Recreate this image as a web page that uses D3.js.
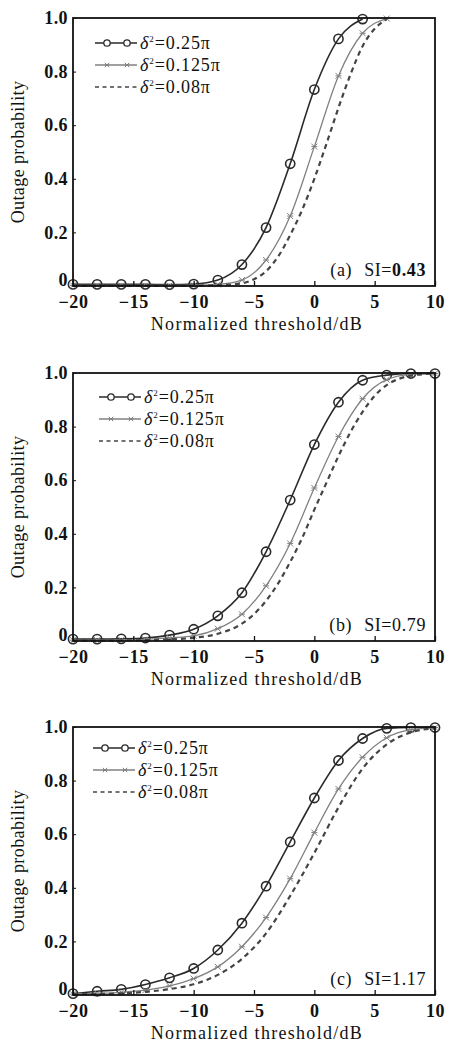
<!DOCTYPE html>
<html>
<head>
<meta charset="utf-8">
<script src="https://cdn.jsdelivr.net/npm/d3@7"></script>
<style>
  body { margin: 0; background: #fff; }
  svg { display: block; font-family: "Liberation Serif", "Times New Roman", serif; }
</style>
</head>
<body>
<svg id="chart" width="450" height="1043"></svg>
<script>
var xTicks = [-20, -15, -10, -5, 0, 5, 10];
var yTicks = [0, 0.2, 0.4, 0.6, 0.8, 1.0];
var seriesNames = ["0.25π", "0.125π", "0.08π"];
var panelTags = ["(a)", "(b)", "(c)"];
var siValues = ["0.43", "0.79", "1.17"];

// panel (a)
var xA25 = [-20, -18, -16, -14, -12, -10, -8, -6, -4, -2, 0, 2, 4];
var yA25 = [0.006, 0.006, 0.006, 0.006, 0.005, 0.007, 0.022, 0.08, 0.218, 0.456, 0.733, 0.922, 0.996];
var xA125 = [-20, -18, -16, -14, -12, -10, -8, -6, -4, -2, 0, 2, 4, 6];
var yA125 = [0.002, 0.002, 0.002, 0.002, 0.002, 0.003, 0.006, 0.022, 0.097, 0.261, 0.52, 0.784, 0.943, 0.998];
var xA08 = [-20, -10, -8, -6, -5, -4, -3, -2, -1, 0, 1, 2, 3, 4, 5, 6];
var yA08 = [0.001, 0.001, 0.003, 0.01, 0.025, 0.055, 0.11, 0.19, 0.285, 0.40, 0.53, 0.665, 0.79, 0.895, 0.96, 0.995];

// panel (b)
var xB25 = [-20, -18, -16, -14, -12, -10, -8, -6, -4, -2, 0, 2, 4, 6, 8, 10];
var yB25 = [0.007, 0.007, 0.008, 0.011, 0.022, 0.044, 0.094, 0.18, 0.333, 0.526, 0.733, 0.891, 0.973, 0.992, 0.998, 0.998];
var xB125 = [-20, -18, -16, -14, -12, -10, -8, -6, -4, -2, 0, 2, 4, 6, 8, 10];
var yB125 = [0.003, 0.003, 0.004, 0.006, 0.012, 0.019, 0.046, 0.10, 0.206, 0.364, 0.571, 0.763, 0.904, 0.975, 0.995, 0.998];
var xB08 = [-20, -14, -12, -10, -8, -6, -5, -4, -3, -2, -1, 0, 1, 2, 3, 4, 5, 6, 7, 8, 10];
var yB08 = [0.001, 0.003, 0.006, 0.012, 0.027, 0.065, 0.10, 0.15, 0.215, 0.295, 0.385, 0.49, 0.59, 0.69, 0.78, 0.855, 0.915, 0.955, 0.978, 0.99, 0.998];

// panel (c)
var xC25 = [-20, -18, -16, -14, -12, -10, -8, -6, -4, -2, 0, 2, 4, 6, 8, 10];
var yC25 = [0.005, 0.014, 0.021, 0.039, 0.064, 0.099, 0.168, 0.268, 0.406, 0.571, 0.735, 0.875, 0.957, 0.995, 0.998, 0.998];
var xC125 = [-20, -18, -16, -14, -12, -10, -8, -6, -4, -2, 0, 2, 4, 6, 8, 10];
var yC125 = [0.003, 0.006, 0.01, 0.018, 0.034, 0.061, 0.105, 0.18, 0.289, 0.434, 0.606, 0.769, 0.887, 0.96, 0.99, 0.998];
var xC08 = [-20, -18, -16, -14, -12, -10, -8, -6, -4, -2, 0, 2, 4, 6, 8, 10];
var yC08 = [0.002, 0.004, 0.006, 0.012, 0.022, 0.04, 0.075, 0.135, 0.23, 0.37, 0.53, 0.70, 0.845, 0.935, 0.98, 0.995];

var panels = [
  { tag: panelTags[0], si: siValues[0], siBold: true, top: 18, legX: 95, legY: 25,
    series: [[xA25, yA25], [xA125, yA125], [xA08, yA08]] },
  { tag: panelTags[1], si: siValues[1], siBold: false, top: 373, legX: 99, legY: 24,
    series: [[xB25, yB25], [xB125, yB125], [xB08, yB08]] },
  { tag: panelTags[2], si: siValues[2], siBold: false, top: 727, legX: 93, legY: 21,
    series: [[xC25, yC25], [xC125, yC125], [xC08, yC08]] }
];

var svg = d3.select("#chart");
var left = 73, right = 435, plotH = 268;

var x = d3.scaleLinear().domain([-20, 10]).range([left, right]);

var styles = [
  { stroke: "#2a2a2a", width: 1.6, dash: null, marker: "circle" },
  { stroke: "#808080", width: 1.3, dash: null, marker: "cross" },
  { stroke: "#444", width: 2.2, dash: "5,4", marker: null }
];

function crossPath(cx, cy, s) {
  return "M" + (cx - s) + "," + (cy - s) + "L" + (cx + s) + "," + (cy + s) +
         "M" + (cx - s) + "," + (cy + s) + "L" + (cx + s) + "," + (cy - s) +
         "M" + (cx - s) + "," + cy + "L" + (cx + s) + "," + cy;
}

panels.forEach(function(p) {
  var bottom = p.top + plotH;
  var y = d3.scaleLinear().domain([0, 1]).range([bottom, p.top]);
  var g = svg.append("g");

  // curves
  p.series.forEach(function(s, i) {
    var pts = s[0].map(function(v, k) { return [v, s[1][k]]; });
    var st = styles[i];
    var line = d3.line()
      .x(function(d) { return x(d[0]); })
      .y(function(d) { return y(d[1]); })
      .curve(d3.curveMonotoneX);

    g.append("path")
      .datum(pts)
      .attr("d", line)
      .attr("fill", "none")
      .attr("stroke", st.stroke)
      .attr("stroke-width", st.width)
      .attr("stroke-dasharray", st.dash);

    if (st.marker == "circle") {
      g.selectAll(null).data(pts).enter().append("circle")
        .attr("cx", function(d) { return x(d[0]); })
        .attr("cy", function(d) { return y(d[1]); })
        .attr("r", 4.6)
        .attr("fill", "none")
        .attr("stroke", st.stroke)
        .attr("stroke-width", 1.6);
    } else if (st.marker == "cross") {
      g.selectAll(null).data(pts).enter().append("path")
        .attr("d", function(d) { return crossPath(x(d[0]), y(d[1]), 3); })
        .attr("fill", "none")
        .attr("stroke", st.stroke)
        .attr("stroke-width", 1);
    }
  });

  // frame
  g.append("rect")
    .attr("x", left).attr("y", p.top)
    .attr("width", right - left).attr("height", plotH)
    .attr("fill", "none")
    .attr("stroke", "#111")
    .attr("stroke-width", 1.8);

  // bottom axis, ticks pointing in
  var xAxis = g.append("g")
    .attr("transform", "translate(0," + bottom + ")")
    .call(d3.axisBottom(x).tickValues(xTicks).tickSize(-5).tickPadding(9)
      .tickFormat(function(d) { return d < 0 ? "\u2212" + Math.abs(d) : d; }));
  xAxis.select(".domain").remove();
  xAxis.selectAll("line").attr("stroke", "#111").attr("stroke-width", 1.3);
  xAxis.selectAll("text")
    .attr("font-family", "Liberation Serif")
    .attr("font-size", 18)
    .attr("font-weight", "bold")
    .attr("letter-spacing", 0.6)
    .attr("fill", "#111");

  // left axis
  var yAxis = g.append("g")
    .attr("transform", "translate(" + left + ",0)")
    .call(d3.axisLeft(y).tickValues(yTicks).tickSize(-3).tickPadding(5)
      .tickFormat(function(d) { return d == 0 ? "0" : d3.format(".1f")(d); }));
  yAxis.select(".domain").remove();
  yAxis.selectAll("line").attr("stroke", "#111").attr("stroke-width", 1);
  yAxis.selectAll("text")
    .attr("font-family", "Liberation Serif")
    .attr("font-size", 18)
    .attr("font-weight", "bold")
    .attr("letter-spacing", 0.4)
    .attr("fill", "#111");
  // lift the "0" so it sits above the x tick labels
  yAxis.selectAll(".tick").filter(function(d) { return d == 0; })
    .select("text").attr("dy", "-0.05em");

  // axis titles
  g.append("text")
    .attr("x", (left + right) / 2 + 3)
    .attr("y", bottom + 44)
    .attr("text-anchor", "middle")
    .attr("font-size", 18)
    .attr("letter-spacing", 1.3)
    .attr("fill", "#111")
    .text("Normalized threshold/dB");

  g.append("text")
    .attr("transform", "translate(24," + (p.top + plotH / 2) + ") rotate(-90)")
    .attr("text-anchor", "middle")
    .attr("font-size", 18)
    .attr("letter-spacing", 0.4)
    .attr("fill", "#111")
    .text("Outage probability");

  // legend
  var leg = g.append("g").attr("transform", "translate(" + p.legX + "," + (p.top + p.legY) + ")");
  seriesNames.forEach(function(name, i) {
    var st = styles[i];
    var row = leg.append("g").attr("transform", "translate(0," + (i * 22) + ")");
    row.append("line")
      .attr("x1", 0).attr("x2", 42).attr("y1", 0).attr("y2", 0)
      .attr("stroke", st.stroke)
      .attr("stroke-width", st.dash ? 1.3 : st.width)
      .attr("stroke-dasharray", st.dash ? "4,3.5" : null);
    [12, 32].forEach(function(mx) {
      if (st.marker == "circle") {
        row.append("circle").attr("cx", mx).attr("cy", 0).attr("r", 3.2)
          .attr("fill", "#fff").attr("stroke", st.stroke).attr("stroke-width", 1.3);
      } else if (st.marker == "cross") {
        row.append("path").attr("d", crossPath(mx, 0, 2.2))
          .attr("stroke", st.stroke).attr("stroke-width", 1);
      }
    });
    var t = row.append("text")
      .attr("x", 45).attr("y", 6)
      .attr("font-size", 18)
      .attr("letter-spacing", 0.9)
      .attr("fill", "#111");
    t.append("tspan").attr("font-style", "italic").text("δ");
    t.append("tspan").attr("font-size", 9).attr("dy", -7).text("2");
    t.append("tspan").attr("dy", 7).text("=" + name);
  });

  // panel tag
  var tag = g.append("text")
    .attr("x", right - 9)
    .attr("y", bottom - 10)
    .attr("text-anchor", "end")
    .attr("font-size", 18)
    .attr("letter-spacing", 0.6)
    .attr("fill", "#111");
  tag.append("tspan").text(p.tag);
  tag.append("tspan").attr("dx", 12).text("SI=");
  tag.append("tspan").attr("font-weight", p.siBold ? "bold" : null).text(p.si);
});
</script>
</body>
</html>
